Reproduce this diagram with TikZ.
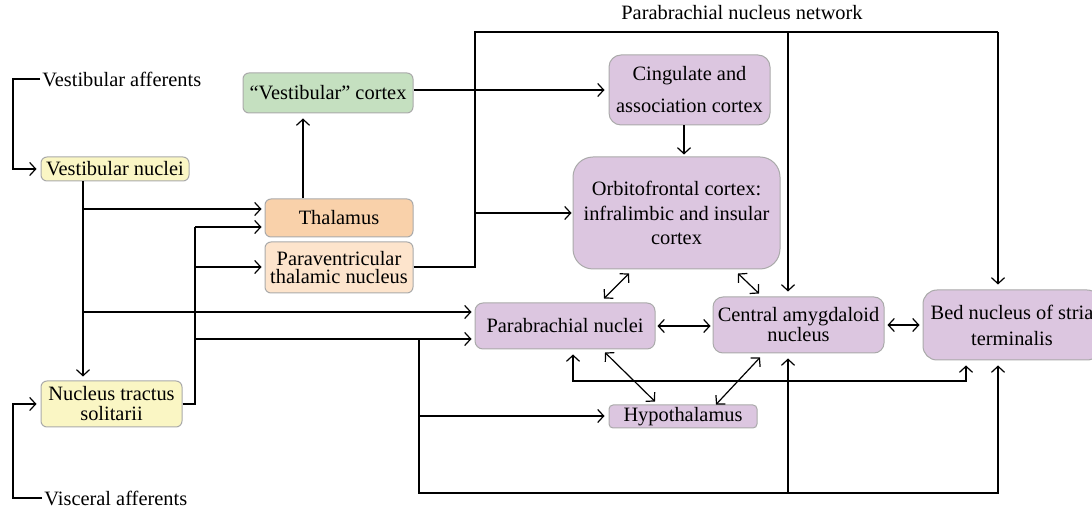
\documentclass[tikz,border=0pt]{standalone}
\usepackage{fontspec}
\setmainfont{Liberation Serif}
\usetikzlibrary{arrows.meta}
\definecolor{ylw}{RGB}{250,246,196}
\definecolor{grn}{RGB}{197,224,192}
\definecolor{org}{RGB}{249,209,170}
\definecolor{peach}{RGB}{253,228,204}
\definecolor{prp}{RGB}{220,198,224}
\definecolor{bgray}{RGB}{170,170,170}
\begin{document}
\begin{tikzpicture}[x=0.5pt,y=-0.5pt,
  box/.style={draw=bgray, line width=0.5pt, rounded corners=3pt, inner sep=0pt, align=center, font=\fontsize{10.2}{12}\selectfont},
  ln/.style={line width=0.6pt},
  thk/.style={line width=1.1pt},
  arr/.style={ln, -{Straight Barb[length=3pt,width=6.5pt]}, shorten >=1.5pt},
  darr/.style={ln, {Straight Barb[length=3pt,width=6.5pt]}-{Straight Barb[length=3pt,width=6.5pt]}},
  txt/.style={font=\fontsize{10.2}{12}\selectfont, inner sep=1pt}]
\useasboundingbox (0,0) rectangle (1092,507);
\clip (0,0) rectangle (1092,507);

% boxes
\node[box, fill=ylw, minimum width=74pt, minimum height=12pt] (VN) at (115,169) {Vestibular nuclei};
\node[box, fill=grn, minimum width=85pt, minimum height=20pt] (VC) at (328,93) {“Vestibular” cortex};
\node[box, fill=org, minimum width=74pt, minimum height=19pt] (Thal) at (339,218) {Thalamus};
\node[box, fill=peach, minimum width=74pt, minimum height=25.5pt, font=\fontsize{10.2}{9}\selectfont] (PVT) at (339,267.5) {Paraventricular\\thalamic nucleus};
\node[box, fill=ylw, minimum width=70.5pt, minimum height=23pt, font=\fontsize{10.2}{10}\selectfont] (NTS) at (111.5,404) {Nucleus tractus\\solitarii};
\node[box, fill=prp, rounded corners=6pt, minimum width=80.5pt, minimum height=35pt, font=\fontsize{10.2}{16}\selectfont] (Cing) at (689.5,90) {Cingulate and\\association cortex};
\node[box, fill=prp, rounded corners=10pt, minimum width=103.5pt, minimum height=56pt, font=\fontsize{10.2}{12.3}\selectfont] (OFC) at (676.5,213) {Orbitofrontal cortex:\\infralimbic and insular\\cortex};
\node[box, fill=prp, rounded corners=4pt, minimum width=90pt, minimum height=23pt] (PBN) at (565,326) {Parabrachial nuclei};
\node[box, fill=prp, rounded corners=5pt, minimum width=85.5pt, minimum height=28pt, font=\fontsize{10.2}{10}\selectfont] (CeA) at (798.5,325) {Central amygdaloid\\nucleus};
\node[box, fill=prp, rounded corners=7pt, minimum width=89pt, minimum height=35pt, font=\fontsize{10.2}{13}\selectfont] (Bed) at (1012,325) {Bed nucleus of stria\\terminalis};
\node[box, fill=prp, rounded corners=2pt, minimum width=74pt, minimum height=11.5pt] (Hyp) at (683,416.5) {Hypothalamus};

% free labels
\node[txt, anchor=west] (va) at (40,79) {Vestibular afferents};
\node[txt, anchor=west] (visc) at (42,498) {Visceral afferents};
\node[txt] (pbnet) at (742,13) {Parabrachial nucleus network};

% afferents
\coordinate (lx) at (13,0);
\draw[arr, shorten >=2pt] (va.west) -- (va.west -| lx) |- (VN.west);
\draw[arr, shorten >=2pt] (visc.west) -- (visc.west -| lx) |- (NTS.west);

% vestibular nuclei trunk
\coordinate (vt) at (83,0);
\draw[arr, shorten >=2pt] (VN.south -| vt) -- (NTS.north -| vt);
\coordinate (vThal) at (83,209);
\draw[arr] (vThal) -- (vThal -| Thal.west);
\coordinate (vPBN) at (83,312);
\draw[arr] (vPBN) -- (vPBN -| PBN.west);

% NTS trunk
\coordinate (nTop) at (195,227);
\coordinate (nPVT) at (195,267);
\coordinate (nPB) at (195,339);
\draw[thk] (NTS.east) -| (nPB);
\draw[ln] (nPB) -- (nTop);
\draw[arr] (nTop) -- (nTop -| Thal.west);
\draw[arr] (nPVT) -- (nPVT -| PVT.west);
\draw[arr] (nPB) -- (nPB -| PBN.west);
\coordinate (hx) at (419,339);
\coordinate (hb) at (419,493);
\coordinate (hH) at (419,416);
\coordinate (bBed) at (998,493);
\coordinate (bCeA) at (788,493);
\draw[arr, shorten >=2.5pt] (hx) -- (hb) -- (bBed) -- (bBed |- Bed.south);
\draw[arr, shorten >=2.5pt] (bCeA) -- (bCeA |- CeA.south);
\draw[arr, shorten >=2pt] (hH) -- (hH -| Hyp.west);

% parabrachial nucleus network frame
\coordinate (fB) at (475,267);
\coordinate (fO) at (475,213);
\coordinate (fT) at (475,32);
\coordinate (fC) at (788,32);
\coordinate (fR) at (998,32);
\draw[thk] (PVT.east |- fB) -- (fB) -- (fO);
\draw[ln] (fO) -- (fT) -- (fR);
\draw[arr, shorten >=0.5pt] (fO) -- (fO -| OFC.west);
\draw[arr, shorten >=2.5pt] (fR) -- (fR |- Bed.north);
\draw[arr, shorten >=2.5pt] (fC) -- (fC |- CeA.north);

% cortical path
\coordinate (tv) at (303,0);
\draw[arr, shorten >=2.5pt] (Thal.north -| tv) -- (VC.south -| tv);
\draw[arr, shorten >=2pt] (VC.east |- Cing.west) -- (Cing.west);
\coordinate (co) at (684,0);
\draw[arr, shorten >=1pt] (Cing.south -| co) -- (OFC.north -| co);

% reciprocal connections
\draw[darr] ([xshift=-23.75pt,yshift=-2pt]OFC.south) -- ([xshift=19.5pt,yshift=2pt]PBN.north);
\draw[darr] ([xshift=30.75pt,yshift=-2pt]OFC.south) -- ([xshift=-19.75pt,yshift=1.5pt]CeA.north);
\draw[darr] ([xshift=20pt,yshift=-1.5pt]PBN.south) -- ([xshift=-14pt,yshift=1.5pt]Hyp.north);
\draw[darr] ([xshift=-19.25pt,yshift=-2pt]CeA.south) -- ([xshift=16.5pt]Hyp.north);
\draw[darr, shorten <=1pt, shorten >=1pt] (PBN.east) -- (PBN.east -| CeA.west);
\draw[darr, shorten <=1.5pt, shorten >=1.5pt] (CeA.east) -- (Bed.west);
\coordinate (mL) at (573,381);
\coordinate (mR) at (966,381);
\draw[darr, shorten <=2.5pt, shorten >=2.5pt] (mL |- PBN.south) -- (mL) -- (mR) -- (mR |- Bed.south);
\end{tikzpicture}
\end{document}
